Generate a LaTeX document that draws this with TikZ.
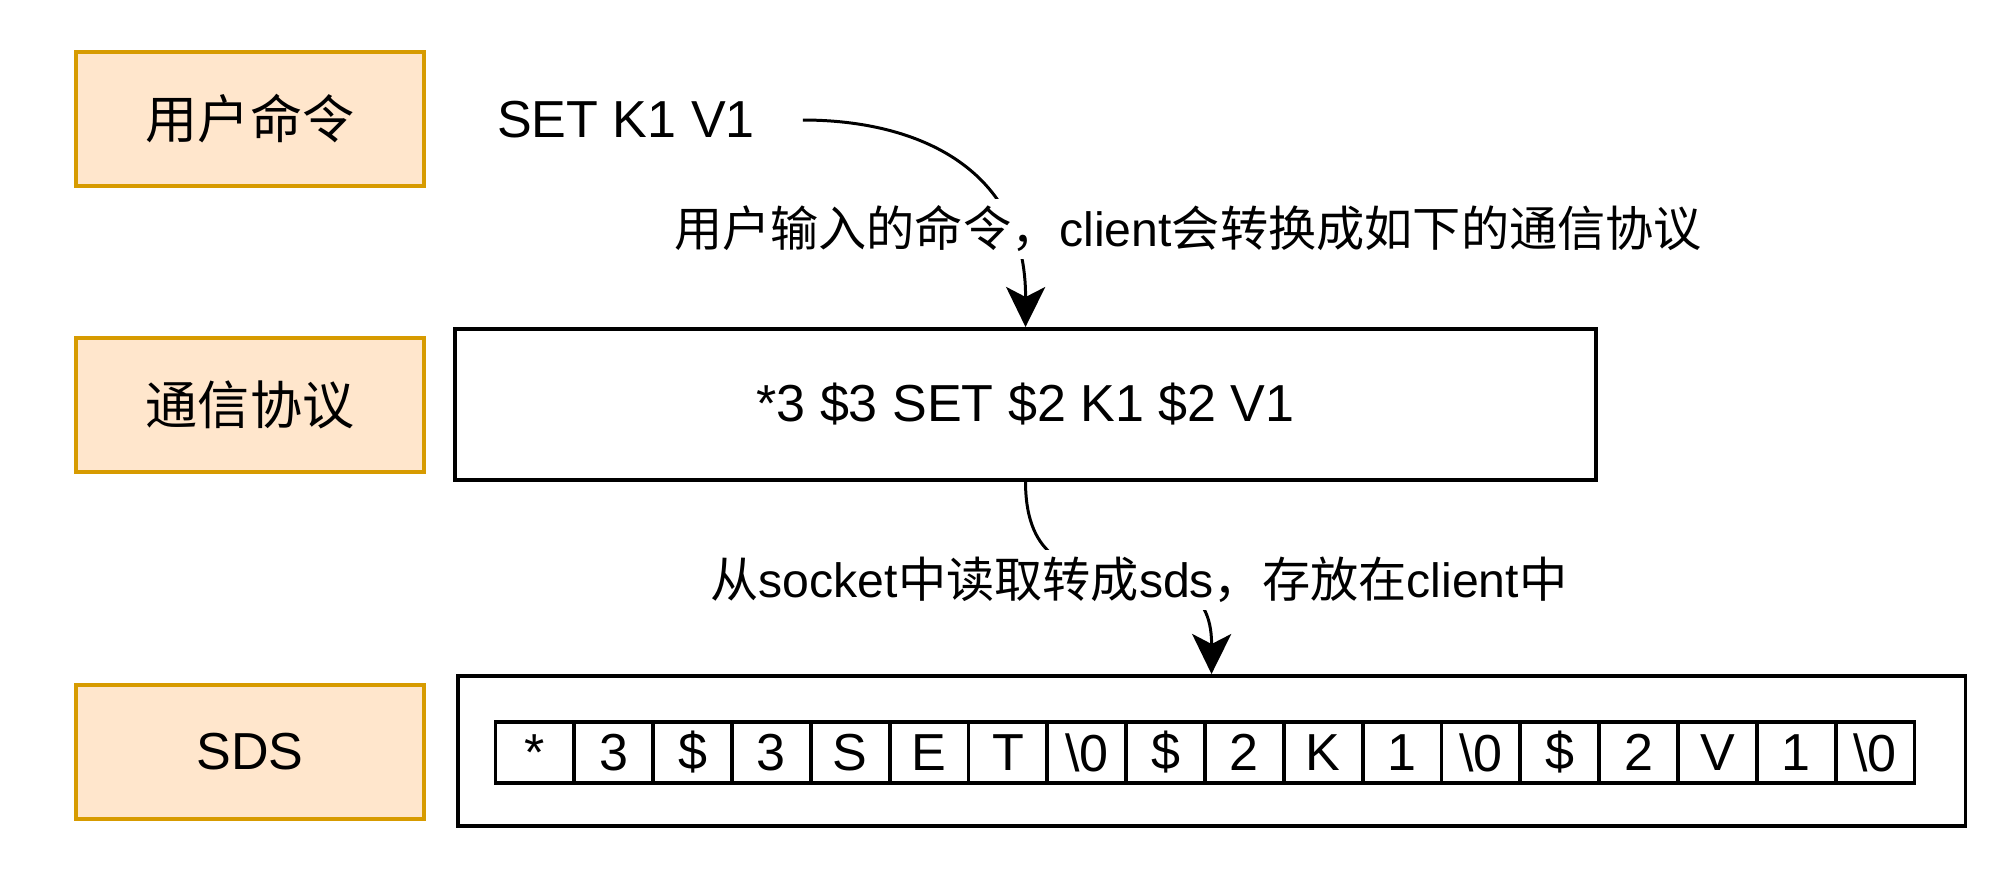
\documentclass[tikz,border=0pt]{standalone}
\usepackage{fontspec}
\setmainfont{Liberation Sans}
\newfontfamily\cjk{Noto Sans CJK SC}
\usetikzlibrary{arrows.meta}
\definecolor{layerfill}{HTML}{FFE6CC}
\definecolor{layerdraw}{HTML}{D79B00}
\tikzset{
	layer/.style={draw=layerdraw, fill=layerfill, line width=1.1pt, minimum width=3.47cm, minimum height=1.34cm, font=\fontsize{14.8}{18}\selectfont},
	frame/.style={draw, line width=1.1pt, font=\fontsize{14.8}{18}\selectfont},
	cellbox/.style={draw, line width=1.1pt, minimum width=0.7883cm, minimum height=0.61cm, inner sep=0pt, font=\fontsize{14.8}{18}\selectfont},
	flow/.style={line width=0.85pt, -{Stealth[length=0.4cm, width=0.39cm, inset=0.1cm]}},
	note/.style={fill=white, inner sep=2pt, font=\fontsize{13.7}{16}\selectfont},
}
\begin{document}
\begin{tikzpicture}[x=0.01cm, y=-0.01cm]
			\useasboundingbox (0,0) rectangle (2012,884);
			\node[layer] (usercmd)  at (250,119) {\cjk 用户命令};
			\node[layer] (protocol) at (250,405) {\cjk 通信协议};
			\node[layer] (sds)      at (250,752) {SDS};
			\node[minimum width=3.52cm, font=\fontsize{14.8}{18}\selectfont] (setcmd) at (626,120) {SET K1 V1};
			\node[frame, minimum width=11.41cm, minimum height=1.51cm] (proto)  at (1025.5,404.5) {*3 \$3 SET \$2 K1 \$2 V1};
			\node[frame, minimum width=15.07cm, minimum height=1.5cm]  (sdsbuf) at (1211.5,751) {};
			\foreach \ch [count=\i] in {*,3,\$,3,S,E,T,\textbackslash0,\$,2,K,1,\textbackslash0,\$,2,V,1,\textbackslash0}
				\node[cellbox] (cell\i) at ({495.5+78.83*(\i-0.5)},752.5) {\ch};
			\draw[flow] (setcmd.east) .. controls (920,120) and (1026,170) .. (proto.north);
			\draw[flow] (proto.south) .. controls (1026,640) and (1212,520) .. (sdsbuf.north);
			\node[note] (lblconvert) at (1188,229) {{\cjk 用户输入的命令，}client{\cjk 会转换成如下的通信协议}};
			\node[note] (lblread)    at (1139,580) {{\cjk 从}socket{\cjk 中读取转成}sds{\cjk ，存放在}client{\cjk 中}};
		\end{tikzpicture}
\end{document}
